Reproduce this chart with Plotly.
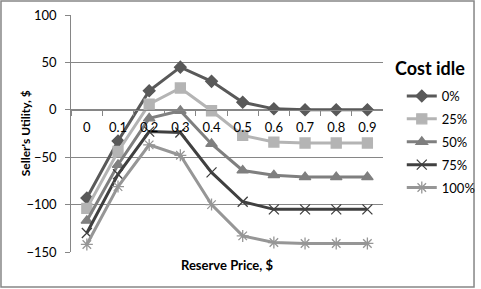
import plotly.graph_objects as go

categories = ["0", "0.1", "0.2", "0.3", "0.4", "0.5", "0.6", "0.7", "0.8", "0.9"]
series_names = ["0%", "25%", "50%", "75%", "100%"]
u0 = [-93, -33, 20, 45, 30, 8, 1, 0, 0, 0]
u25 = [-104, -44, 6, 23, -1, -27, -34, -35, -35, -35]
u50 = [-117, -58, -9, -1, -36, -64, -69, -71, -71, -71]
u75 = [-130, -68, -23, -24, -66, -97, -105, -105, -105, -105]
u100 = [-142, -81, -37, -48, -100, -133, -140, -141, -141, -141]
y_ticks = [100, 50, 0, -50, -100, -150]

values = [u0, u25, u50, u75, u100]
colors = ["#595959", "#B4B4B4", "#7F7F7F", "#404040", "#969696"]
symbols = ["diamond", "square", "triangle-up", "x-thin-open", "asterisk-open"]
msizes = [9, 10, 10, 10, 10]

FONT = "Lato"
W, H = 481, 289
# plot area in pixels
PX0, PX1, PY0, PY1 = 72, 387, 15, 252


def px(x):
    return x / W


def py(y):
    return (H - y) / H


ydom = [py(PY1), py(PY0)]
zero_frac = 150 / 250

fig = go.Figure()
for i, (name, vals) in enumerate(zip(series_names, values)):
    fig.add_trace(go.Scatter(
        x=categories, y=vals, name=name, mode="lines+markers",
        legendgroup=name,
        line=dict(color=colors[i], width=3),
        marker=dict(symbol=symbols[i], size=msizes[i], color=colors[i],
                    line=dict(color=colors[i], width=1.3)),
    ))

fig.update_layout(
    width=W, height=H,
    margin=dict(l=0, r=0, t=0, b=0),
    plot_bgcolor="white", paper_bgcolor="white",
    font=dict(family=FONT, size=13, color="#000000"),
    showlegend=True,
    legend=dict(
        x=px(406), y=py(81), xanchor="left", yanchor="top",
        font=dict(size=13, family=FONT),
        traceorder="grouped", tracegroupgap=3,
        bgcolor="rgba(0,0,0,0)", itemwidth=30,
    ),
    xaxis=dict(
        type="category", range=[-0.5, 9.5], domain=[px(PX0), px(PX1)],
        anchor="free", position=ydom[0] + zero_frac * (ydom[1] - ydom[0]),
        showline=True, linecolor="#868686", linewidth=1,
        ticks="outside", ticklen=5, tickcolor="#868686", tickson="boundaries",
        showgrid=False, zeroline=False, automargin=False,
        tickfont=dict(size=13, family=FONT),
        ticklabelstandoff=6,
    ),
    yaxis=dict(
        range=[-150, 100], tickvals=y_ticks, domain=ydom,
        showgrid=True, gridcolor="#868686", gridwidth=1,
        zeroline=False, automargin=False,
        showline=True, linecolor="#868686", linewidth=1,
        ticks="outside", ticklen=5, tickcolor="#868686",
        tickfont=dict(size=13, family=FONT),
        ticklabelstandoff=6,
    ),
    annotations=[
        dict(text="<b>Cost idle</b>", xref="paper", yref="paper",
             x=px(435), y=py(68), xanchor="center", yanchor="middle",
             showarrow=False, font=dict(size=18, family=FONT)),
        dict(text="<b>Reserve Price, $</b>", xref="paper", yref="paper",
             x=px((PX0 + PX1) / 2), y=py(265), xanchor="center", yanchor="middle",
             showarrow=False, font=dict(size=13, family=FONT)),
        dict(text="<b>Seller's Utility, $</b>", xref="paper", yref="paper",
             x=px(26), y=py((PY0 + PY1) / 2), xanchor="center", yanchor="middle",
             textangle=-90, showarrow=False, font=dict(size=12, family=FONT)),
    ],
    shapes=[
        dict(type="rect", xref="paper", yref="paper",
             x0=px(1), x1=px(W - 2), y0=py(H - 2), y1=py(1),
             line=dict(color="#868686", width=1.5), fillcolor="rgba(0,0,0,0)",
             layer="above"),
    ],
)

fig.write_html("out.html", config={"displayModeBar": False},
               post_script="document.body.style.margin='0';")
